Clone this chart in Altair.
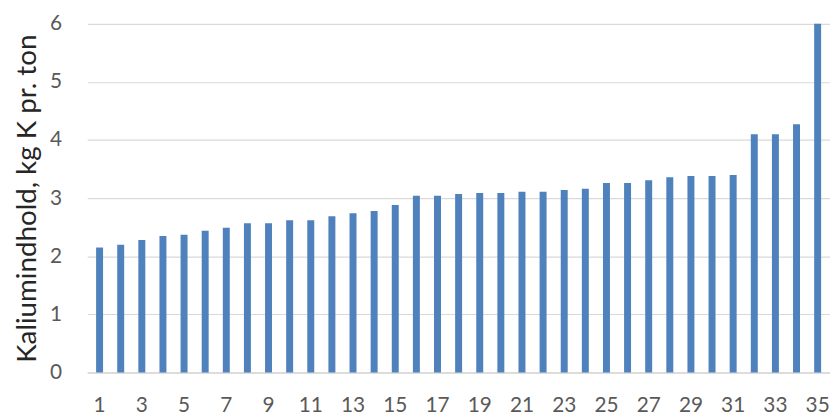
import altair as alt
import pandas as pd

categories = [str(i) for i in range(1, 36)]
values = [2.15, 2.20, 2.28, 2.35, 2.37, 2.44, 2.49, 2.57, 2.57, 2.62,
          2.62, 2.69, 2.74, 2.78, 2.88, 3.04, 3.04, 3.07, 3.09, 3.09,
          3.11, 3.11, 3.14, 3.16, 3.26, 3.26, 3.31, 3.36, 3.38, 3.38,
          3.40, 4.10, 4.10, 4.27, 6.00]
label_cats = [str(i) for i in range(1, 36, 2)]

df = pd.DataFrame({"n": categories, "v": values})
FONT = "Lato, Liberation Sans, sans-serif"

chart = alt.Chart(df).mark_bar(color="#4f81bd").encode(
    x=alt.X("n:N", sort=categories, title=None,
            scale=alt.Scale(paddingInner=0.67, paddingOuter=0.42),
            axis=alt.Axis(values=label_cats, labelAngle=0, ticks=False,
                          domainColor="#d9d9d9", domainWidth=1.5,
                          labelFontSize=21, labelColor="#595959", labelFont=FONT,
                          labelPadding=22, labelOverlap=False)),
    y=alt.Y("v:Q", title="Kaliumindhold, kg K pr. ton",
            scale=alt.Scale(domain=[0, 6]),
            axis=alt.Axis(values=[0, 1, 2, 3, 4, 5, 6], domain=False, ticks=False,
                          gridColor="#d9d9d9", gridWidth=1.2,
                          labelFontSize=21, labelColor="#595959", labelFont=FONT,
                          labelPadding=26, titleFontSize=28, titleFont=FONT,
                          titleFontWeight="normal", titleColor="#262626",
                          titlePadding=8)),
).properties(
    width=750, height=352,
    autosize=alt.AutoSizeParams(type="none"),
    padding={"left": 80, "top": 14, "right": 0, "bottom": 44},
).configure_view(stroke=None)

chart.save("out.html", embed_options={"renderer": "svg", "actions": False})
